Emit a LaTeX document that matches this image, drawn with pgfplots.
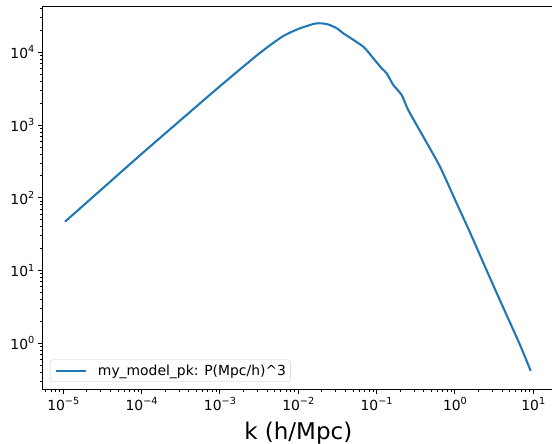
\documentclass[border=0pt]{standalone}
\usepackage{fontspec}
\setmainfont{DejaVu Sans}
\usepackage{pgfplots}
\pgfplotsset{compat=1.18}
\definecolor{mplblue}{HTML}{1F77B4}
\newcommand{\tl}[1]{10\raisebox{0.42em}{\fontsize{9.7pt}{10pt}\selectfont #1}}
\begin{document}
\makebox[552pt][l]{\raisebox{0pt}[444pt][0pt]{%
\begin{tikzpicture}[baseline=0pt]
\path (0pt,0pt) rectangle (552pt,444pt);
\begin{axis}[
  xmode=log, ymode=log,
  scale only axis,
  width=600pt, height=382.6pt,
  at={(42.7pt,54.7pt)}, anchor=south west,
  xmin=5.46e-6, xmax=249.5,
  ymin=0.2333, ymax=42364,
  axis line style={line width=1.1pt},
  tick align=outside,
  xtick pos=bottom, ytick pos=left,
  major tick length=4.86pt, minor tick length=2.78pt,
  every major tick/.style={line width=1.1pt, black},
  every minor tick/.style={line width=0.83pt, black},
  xtick={1e-5,1e-4,1e-3,1e-2,1e-1,1,10},
  xticklabels={\tl{−5},\tl{−4},\tl{−3},\tl{−2},\tl{−1},\tl{0},\tl{1}},
  minor xtick={6e-6,7e-6,8e-6,9e-6,
    2e-5,3e-5,4e-5,5e-5,6e-5,7e-5,8e-5,9e-5,
    2e-4,3e-4,4e-4,5e-4,6e-4,7e-4,8e-4,9e-4,
    2e-3,3e-3,4e-3,5e-3,6e-3,7e-3,8e-3,9e-3,
    0.02,0.03,0.04,0.05,0.06,0.07,0.08,0.09,
    0.2,0.3,0.4,0.5,0.6,0.7,0.8,0.9,
    2,3,4,5,6,7,8,9,20},
  ytick={1,10,100,1000,10000},
  yticklabels={\tl{0},\tl{1},\tl{2},\tl{3},\tl{4}},
  minor ytick={0.3,0.4,0.5,0.6,0.7,0.8,0.9,
    2,3,4,5,6,7,8,9,
    20,30,40,50,60,70,80,90,
    200,300,400,500,600,700,800,900,
    2000,3000,4000,5000,6000,7000,8000,9000,
    20000,30000,40000},
  tick label style={font=\fontsize{13.9pt}{16pt}\selectfont},
  xlabel={k (h/Mpc)},
  xlabel style={font=\fontsize{23pt}{27pt}\selectfont, at={(axis cs:0.01,0.2333)}, anchor=base, yshift=-50.7pt},
  legend style={at={(0,0)}, anchor=south west, xshift=7.3pt, yshift=7.3pt,
    draw=black!20, rounded corners=2.5pt, fill=white, fill opacity=0.8, text opacity=1,
    font=\fontsize{13.9pt}{16pt}\selectfont,
    inner xsep=4.3pt, inner ysep=5pt,
    nodes={inner sep=0pt}, column sep=11.4pt},
  legend cell align=left,
  legend image code/.code={\draw[#1] (0pt,0pt) -- (30pt,0pt);},
]
\addplot[color=mplblue, line width=2.08pt, smooth, tension=0.4] coordinates {
(1.052e-5,46.99) (3.162e-5,133.97) (1e-4,401.8) (3.162e-4,1174.9)
(1e-3,3420) (3.162e-3,9616) (6.310e-3,16520) (1e-2,20940)
(1.413e-2,23714) (1.585e-2,24660) (1.803e-2,25061) (2.000e-2,25000)
(2.239e-2,24550) (2.512e-2,23823) (3.162e-2,21130) (3.758e-2,18239)
(6.761e-2,11940) (9.078e-2,8260) (0.1161,6026) (0.1346,5140)
(0.1633,3556) (0.2089,2588) (0.2535,1607) (0.3945,691.8)
(0.6442,267.9) (1.052,83.95) (1.556,33.50) (2.541,10.05)
(4.140,3.090) (6.761,0.955) (9.268,0.417)
};
\addlegendentry{my\_model\_pk: P(Mpc/h)\^{}3}
\end{axis}
\end{tikzpicture}}}
\end{document}
